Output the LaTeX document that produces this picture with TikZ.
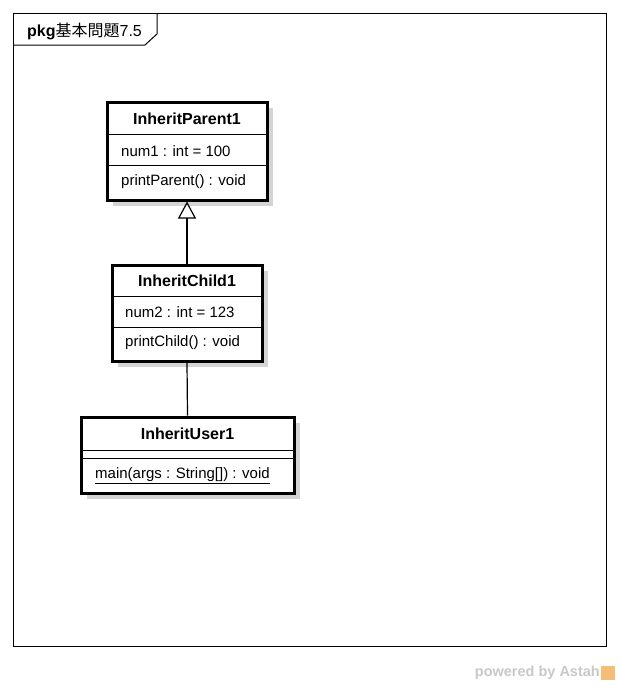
\documentclass[tikz,border=0pt]{standalone}
\usepackage{fontspec}
\setmainfont{Liberation Sans}
\newfontfamily\cjk{Noto Sans CJK JP}
\usepackage{xcolor}
\usepackage{tikz}
\usetikzlibrary{positioning, arrows.meta, calc}
\definecolor{shadowgray}{RGB}{212,212,212}
\definecolor{markgray}{RGB}{200,200,200}
\definecolor{astahorange}{RGB}{245,190,120}
\tikzstyle{class_box}=[rectangle, draw, line width=3pt, fill=white, inner sep=0pt]
\tikzstyle{class_title}=[font=\fontsize{16}{18}\selectfont\bfseries, inner sep=0pt]
\tikzstyle{member}=[font=\fontsize{15}{17}\selectfont, anchor=west, inner sep=0pt]
\tikzstyle{sep_line}=[line width=1pt]

\begin{document}
\begin{tikzpicture}[x=1pt, y=-1pt]
    \useasboundingbox (0,0) rectangle (620,686);
    % package frame
    \draw[line width=1pt] (13,13) rectangle (606,646);
    \draw[line width=1pt] (13,45) -- (145,45) -- (157,34) -- (157,13);
    \node[anchor=west, inner sep=0pt] at (27,31) (pkg) {\fontsize{16}{18}\selectfont\textbf{pkg}\cjk 基本問題\normalfont 7.5};

    % shadows
    \fill[shadowgray] (113,108) rectangle (273,206);
    \fill[shadowgray] (118,271) rectangle (268,367);
    \fill[shadowgray] (87,423) rectangle (300,499);

    % classes
    \node[class_box, minimum width=160pt, minimum height=98pt] at (187,151) (parent) {};
    \node[class_box, minimum width=150pt, minimum height=96pt] at (187,313) (child) {};
    \node[class_box, minimum width=213pt, minimum height=76pt] at (187.5,455) (user) {};

    \node[class_title] at (187,119) (parent_name) {InheritParent1};
    \draw[sep_line] (107,134) -- (267,134);
    \node[member] at (121,151) (parent_attr) {num1 : int = 100};
    \draw[sep_line] (107,165) -- (267,165);
    \node[member] at (121,182) (parent_op) {printParent() : void};

    \node[class_title] at (187,281) (child_name) {InheritChild1};
    \draw[sep_line] (112,296) -- (262,296);
    \node[member] at (125,312) (child_attr) {num2 : int = 123};
    \draw[sep_line] (112,327) -- (262,327);
    \node[member] at (125,343) (child_op) {printChild() : void};

    \node[class_title] at (187.5,434) (user_name) {InheritUser1};
    \draw[sep_line] (81,450) -- (294,450);
    \draw[sep_line] (81,458) -- (294,458);
    \node[member] at (95,476) (user_op) {\underline{main(args : String[]) : void}};

    % relations
    \draw[-{Triangle[open, length=17pt, width=18pt]}, line width=1.2pt] (child.north) -- (parent.south);
    \draw[line width=1.2pt] (child.south) -- (user.north);

    % watermark
    \node[anchor=east, inner sep=0pt, text=markgray, font=\fontsize{14.5}{16}\selectfont\bfseries] at (600,673) (mark) {powered by Astah};
    \node[right=1pt of mark, fill=astahorange, minimum width=14pt, minimum height=14pt, inner sep=0pt] (logo) {};
\end{tikzpicture}
\end{document}
